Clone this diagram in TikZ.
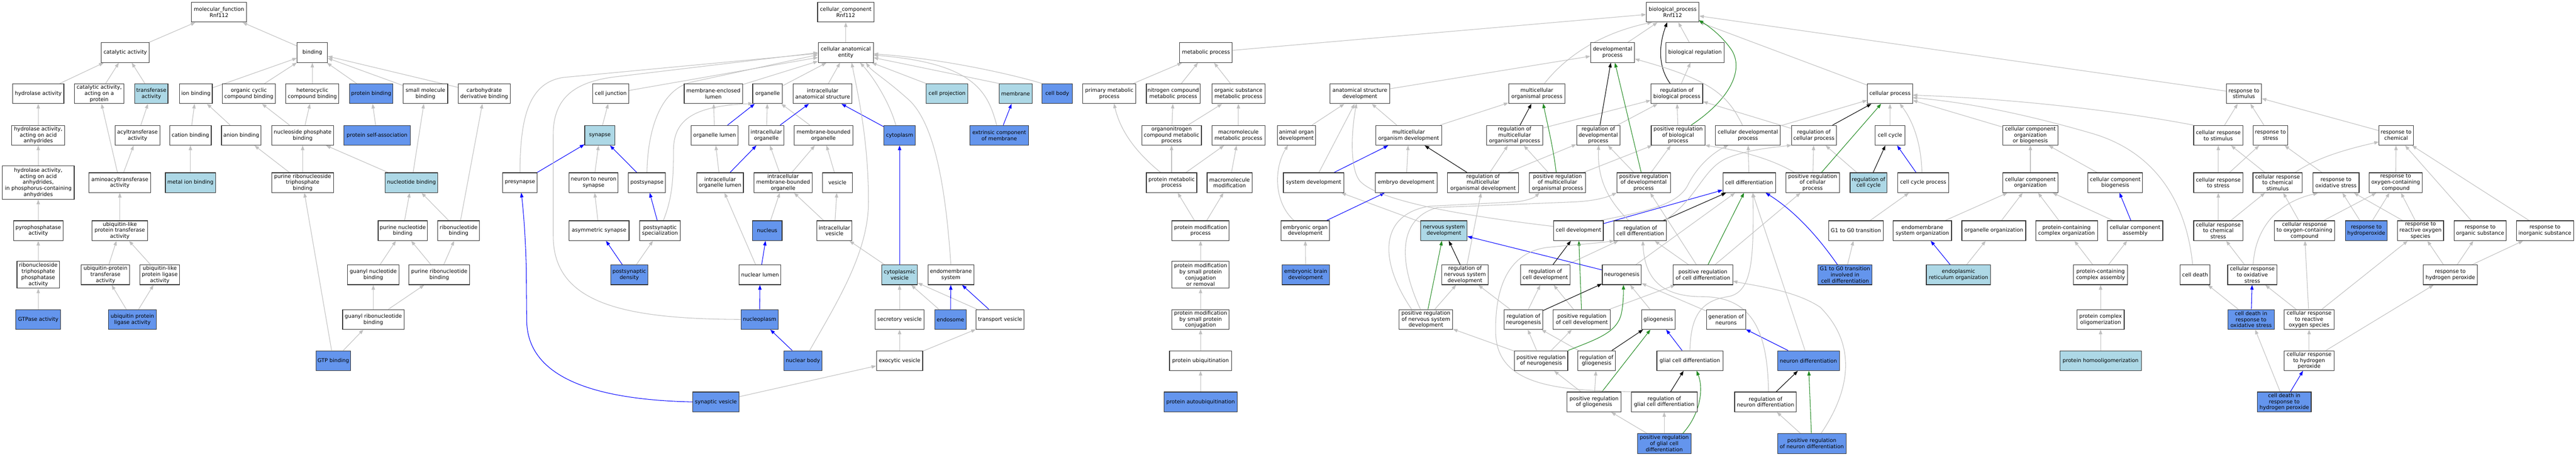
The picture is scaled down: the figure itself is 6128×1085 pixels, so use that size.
\documentclass[tikz,border=0pt]{standalone}
\usepackage{fontspec}
\setmainfont{DejaVu Sans}
\usetikzlibrary{arrows.meta}
\definecolor{egray}{RGB}{192,192,192}
\definecolor{eblue}{RGB}{0,0,255}
\definecolor{egreen}{RGB}{34,139,34}
\definecolor{lbcol}{RGB}{173,216,230}
\definecolor{cbcol}{RGB}{100,149,237}
\pgfdeclarelayer{bg}
\pgfdeclarelayer{edges}
\pgfsetlayers{bg,edges,main}
\tikzset{
  gobox/.style={draw=black!80, line width=1.4pt, fill=white, align=center,
    inner xsep=2pt, inner ysep=0pt, minimum height=47pt,
    font=\fontsize{12.5}{14.5}\selectfont},
  lb/.style={fill=lbcol},
  db/.style={fill=cbcol},
  tall/.style={minimum height=#1pt},
  etip/.style={-{Triangle[length=11pt,width=8pt]}},
  eg/.style={draw=egray, line width=1.3pt, etip},
  eb/.style={draw=eblue, line width=1.3pt, etip},
  ek/.style={draw=black, line width=1.3pt, etip},
  en/.style={draw=egreen, line width=1.3pt, etip},
}
\newcommand{\GOn}[5][]{\node[gobox,minimum width=#4pt,#1] (#2) at (#3) {#5};}
\begin{document}
\begin{tikzpicture}[x=1pt,y=-1pt]
\useasboundingbox (0,0) rectangle (6128,1085);
\begin{pgfonlayer}{bg}
\fill[white] (0,0) rectangle (6128,1085);
\end{pgfonlayer}
% ================= MOLECULAR FUNCTION =================
\GOn{mf}{521,29}{131}{molecular\_function\\Rnf112}
\GOn{cat}{298,125}{114}{catalytic activity}
\GOn{bind}{743,125}{72}{binding}
\GOn{hyd}{91,222.5}{122}{hydrolase activity}
\GOn{catp}{236,222.5}{118}{catalytic activity,\\acting on a\\protein}
\GOn[lb]{trans}{360,222.5}{79}{transferase\\activity}
\GOn{ionb}{466,222.5}{78}{ion binding}
\GOn{ocb}{592,222.5}{126}{organic cyclic\\compound binding}
\GOn{hcb}{743,222.5}{126}{heterocyclic\\compound binding}
\GOn[db]{protb}{883,222.5}{103}{protein binding}
\GOn{smb}{1012,222.5}{106}{small molecule\\binding}
\GOn{cdb}{1152,222.5}{124}{carbohydrate\\derivative binding}
\GOn{hyda}{91,321.5}{126}{hydrolase activity,\\acting on acid\\anhydrides}
\GOn{acyl}{327,321.5}{107}{acyltransferase\\activity}
\GOn{catb}{453,321.5}{99}{cation binding}
\GOn{anb}{574,321.5}{94}{anion binding}
\GOn{npb}{720,321.5}{147}{nucleoside phosphate\\binding}
\GOn[db]{psa}{897,321.5}{158}{protein self-association}
\GOn[tall=79]{hydp}{91,434}{171}{hydrolase activity,\\acting on acid\\anhydrides,\\in phosphorus-containing\\anhydrides}
\GOn{amino}{285,434}{147}{aminoacyltransferase\\activity}
\GOn[lb]{mib}{453,434}{119}{metal ion binding}
\GOn{prtb}{720,434}{147}{purine ribonucleoside\\triphosphate\\binding}
\GOn[lb]{nucb}{979,434}{125}{nucleotide binding}
\GOn{pyro}{91,548}{118}{pyrophosphatase\\activity}
\GOn{ubtr}{285,548}{132}{ubiquitin-like\\protein transferase\\activity}
\GOn{pnb}{958,548}{117}{purine nucleotide\\binding}
\GOn{rnb}{1091,548}{99}{ribonucleotide\\binding}
\GOn[tall=64]{rtpa}{91,653}{101}{ribonucleoside\\triphosphate\\phosphatase\\activity}
\GOn{uptr}{251,653}{115}{ubiquitin-protein\\transferase\\activity}
\GOn{ulpl}{380,653}{94}{ubiquitin-like\\protein ligase\\activity}
\GOn{gnb}{888,653}{123}{guanyl nucleotide\\binding}
\GOn{prb}{1045,653}{145}{purine ribonucleotide\\binding}
\GOn[db]{gtpase}{91,759}{107}{GTPase activity}
\GOn[db]{upl}{315,759}{113}{ubiquitin protein\\ligase activity}
\GOn{grb}{888,759}{146}{guanyl ribonucleotide\\binding}
\GOn[db]{gtpb}{793,857}{83}{GTP binding}
% ================= CELLULAR COMPONENT =================
\GOn{cc}{2012,29}{134}{cellular\_component\\Rnf112}
\GOn{cae}{2012,125}{131}{cellular anatomical\\entity}
\GOn{cj}{1453,222.5}{85}{cell junction}
\GOn{mel}{1697,222.5}{139}{membrane-enclosed\\lumen}
\GOn{org}{1826,222.5}{71}{organelle}
\GOn{ias}{1957,222.5}{140}{intracellular\\anatomical structure}
\GOn[lb]{cproj}{2253,222.5}{99}{cell projection}
\GOn[lb]{memb}{2416,222.5}{78}{membrane}
\GOn[db]{cbody}{2515,222.5}{72}{cell body}
\GOn[lb]{syn}{1427,321.5}{72}{synapse}
\GOn{orgl}{1700,321.5}{111}{organelle lumen}
\GOn{iorg}{1823,321.5}{84}{intracellular\\organelle}
\GOn{mbo}{1959,321.5}{139}{membrane-bounded\\organelle}
\GOn[db]{cyto}{2140,321.5}{75}{cytoplasm}
\GOn[db]{ecm}{2377,321.5}{139}{extrinsic component\\of membrane}
\GOn{presyn}{1237,434}{82}{presynapse}
\GOn{nns}{1412,434}{117}{neuron to neuron\\synapse}
\GOn{postsyn}{1539,434}{88}{postsynapse}
\GOn{iol}{1713,434}{111}{intracellular\\organelle lumen}
\GOn{imbo}{1863,434}{138}{intracellular\\membrane-bounded\\organelle}
\GOn{ves}{1992,434}{71}{vesicle}
\GOn{asyn}{1425,548}{143}{asymmetric synapse}
\GOn{pss}{1570,548}{96}{postsynaptic\\specialization}
\GOn[db]{nucleus}{1825,548}{71}{nucleus}
\GOn{iv}{1985,548}{83}{intracellular\\vesicle}
\GOn[db]{psd}{1497,653}{89}{postsynaptic\\density}
\GOn{nl}{1808,653}{99}{nuclear lumen}
\GOn[lb]{cv}{2140,653}{85}{cytoplasmic\\vesicle}
\GOn{ems}{2262,653}{109}{endomembrane\\system}
\GOn[db]{np}{1807,759}{89}{nucleoplasm}
\GOn{sv}{2140,759}{117}{secretory vesicle}
\GOn[db]{endo}{2261,759}{75}{endosome}
\GOn{tv}{2379,759}{114}{transport vesicle}
\GOn[db]{nb}{1910,857}{91}{nuclear body}
\GOn{ev}{2140,857}{110}{exocytic vesicle}
\GOn[db]{synv}{1703,955}{110}{synaptic vesicle}
% ================= BIOLOGICAL PROCESS =================
\GOn{bp}{3979,29}{125}{biological\_process\\Rnf112}
\GOn{metab}{2869,125}{125}{metabolic process}
\GOn{devp}{3836,125}{104}{developmental\\process}
\GOn{bioreg}{4032,125}{138}{biological regulation}
\GOn{pmp}{2639,222.5}{126}{primary metabolic\\process}
\GOn{ncmp}{2791,222.5}{128}{nitrogen compound\\metabolic process}
\GOn{osmp}{2946,222.5}{126}{organic substance\\metabolic process}
\GOn{asd}{3235,222.5}{142}{anatomical structure\\development}
\GOn{mop}{3656,222.5}{134}{multicellular\\organismal process}
\GOn{rbp}{3989,222.5}{123}{regulation of\\biological process}
\GOn{cp}{4496,222.5}{107}{cellular process}
\GOn{rs}{5338,222.5}{83}{response to\\stimulus}
\GOn{oncmp}{2787,321.5}{142}{organonitrogen\\compound metabolic\\process}
\GOn{mmp}{2946,321.5}{126}{macromolecule\\metabolic process}
\GOn{aod}{3084,321.5}{91}{animal organ\\development}
\GOn{mod}{3351,321.5}{157}{multicellular\\organism development}
\GOn{rmop}{3603,321.5}{133}{regulation of\\multicellular\\organismal process}
\GOn{rdp}{3802,321.5}{103}{regulation of\\developmental\\process}
\GOn{prbp}{3992,321.5}{128}{positive regulation\\of biological\\process}
\GOn{cdp}{4158,321.5}{155}{cellular developmental\\process}
\GOn{rcp}{4315,321.5}{107}{regulation of\\cellular process}
\GOn{ccyc}{4496,321.5}{72}{cell cycle}
\GOn{ccob}{4830,321.5}{131}{cellular component\\organization\\or biogenesis}
\GOn{crs}{5277,321.5}{117}{cellular response\\to stimulus}
\GOn{rstress}{5401,321.5}{82}{response to\\stress}
\GOn{rchem}{5700,321.5}{82}{response to\\chemical}
\GOn{protmp}{2787,434}{120}{protein metabolic\\process}
\GOn{mmod}{2925,434}{107}{macromolecule\\modification}
\GOn{sysd}{3125,434}{144}{system development}
\GOn{embd}{3345,434}{147}{embryo development}
\GOn{rmod}{3528,434}{169}{regulation of\\multicellular\\organismal development}
\GOn{prmop}{3705,434}{133}{positive regulation\\of multicellular\\organismal process}
\GOn{prdp}{3910,434}{127}{positive regulation\\of developmental\\process}
\GOn{cdiff}{4161,434}{125}{cell differentiation}
\GOn{prcp}{4312,434}{128}{positive regulation\\of cellular\\process}
\GOn[lb]{rcc}{4445,434}{88}{regulation of\\cell cycle}
\GOn{ccp}{4575,434}{121}{cell cycle process}
\GOn{cco}{4830,434}{131}{cellular component\\organization}
\GOn{ccb}{5032,434}{130}{cellular component\\biogenesis}
\GOn{crstress}{5277,434}{117}{cellular response\\to stress}
\GOn{crcs}{5418,434}{117}{cellular response\\to chemical\\stimulus}
\GOn{ros}{5557,434}{110}{response to\\oxidative stress}
\GOn{rocc}{5699,434}{126}{response to\\oxygen-containing\\compound}
\GOn{pmpr}{2856,548}{136}{protein modification\\process}
\GOn{eod}{3105,548}{115}{embryonic organ\\development}
\GOn[lb]{nsd}{3435,548}{110}{nervous system\\development}
\GOn{celld}{3755,548}{118}{cell development}
\GOn{rcd}{3902,548}{125}{regulation of\\cell differentiation}
\GOn{g1g0}{4415,548}{130}{G1 to G0 transition}
\GOn{emso}{4573,548}{139}{endomembrane\\system organization}
\GOn{oo}{4743,548}{152}{organelle organization}
\GOn{pcco}{4916,548}{147}{protein-containing\\complex organization}
\GOn{cca}{5079,548}{132}{cellular component\\assembly}
\GOn{crcstress}{5277,548}{117}{cellular response\\to chemical\\stress}
\GOn{crocc}{5482,548}{144}{cellular response\\to oxygen-containing\\compound}
\GOn[db]{rhyd}{5629,548}{99}{response to\\hydroperoxide}
\GOn{rros}{5758,548}{110}{response to\\reactive oxygen\\species}
\GOn{rorg}{5900,548}{123}{response to\\organic substance}
\GOn{rinorg}{6054,548}{136}{response to\\inorganic substance}
\GOn[tall=64]{pmsr}{2856,653}{136}{protein modification\\by small protein\\conjugation\\or removal}
\GOn[db]{ebd}{3106,653}{113}{embryonic brain\\development}
\GOn{rnsd}{3485,653}{111}{regulation of\\nervous system\\development}
\GOn{rcdev}{3676,653}{118}{regulation of\\cell development}
\GOn{neurog}{3858,653}{93}{neurogenesis}
\GOn{prcd}{4051,653}{142}{positive regulation\\of cell differentiation}
\GOn[db]{g1g0cd}{4389,653}{129}{G1 to G0 transition\\involved in\\cell differentiation}
\GOn[lb]{ero}{4659,653}{153}{endoplasmic\\reticulum organization}
\GOn{pcca}{4997,653}{129}{protein-containing\\complex assembly}
\GOn{cdeath}{5222,653}{71}{cell death}
\GOn{cros}{5358,653}{117}{cellular response\\to oxidative\\stress}
\GOn{rhp}{5829,653}{128}{response to\\hydrogen peroxide}
\GOn{pmsp}{2856,759}{136}{protein modification\\by small protein\\conjugation}
\GOn{prnsd}{3392,759}{127}{positive regulation\\of nervous system\\development}
\GOn{rneurog}{3624,759}{92}{regulation of\\neurogenesis}
\GOn{prcdev}{3763,759}{136}{positive regulation\\of cell development}
\GOn{glio}{3945,759}{80}{gliogenesis}
\GOn{genn}{4106,759}{93}{generation of\\neurons}
\GOn{pco}{4997,759}{112}{protein complex\\oligomerization}
\GOn[db]{cdros}{5355,759}{110}{cell death in\\response to\\oxidative stress}
\GOn{crros}{5493,759}{118}{cellular response\\to reactive\\oxygen species}
\GOn{pubiq}{2856,857}{148}{protein ubiquitination}
\GOn{prneurog}{3666,857}{127}{positive regulation\\of neurogenesis}
\GOn{rglio}{3798,857}{89}{regulation of\\gliogenesis}
\GOn{gcd}{4020,857}{157}{glial cell differentiation}
\GOn[db]{nd}{4302,857}{147}{neuron differentiation}
\GOn[lb]{pho}{4997,857}{194}{protein homooligomerization}
\GOn{crhp}{5493,857}{118}{cellular response\\to hydrogen\\peroxide}
\GOn[db]{pautoub}{2856,955}{174}{protein autoubiquitination}
\GOn{prglio}{3792,955}{128}{positive regulation\\of gliogenesis}
\GOn{rgcd}{3959,955}{157}{regulation of\\glial cell differentiation}
\GOn{rnd}{4200,955}{147}{regulation of\\neuron differentiation}
\GOn[db]{cdrhp}{5434,955}{128}{cell death in\\response to\\hydrogen peroxide}
\GOn[db]{prgcd}{3959,1054}{128}{positive regulation\\of glial cell\\differentiation}
\GOn[db]{prnd}{4310,1054}{163}{positive regulation\\of neuron differentiation}
% ================= EDGES =================
\begin{pgfonlayer}{edges}
% gray straight
\foreach \a/\b in {cat/mf, bind/mf, hyd/cat, catp/cat, trans/cat, ionb/bind, ocb/bind, hcb/bind, protb/bind, smb/bind, cdb/bind, hyda/hyd, acyl/trans, catb/ionb, anb/ionb, npb/ocb, npb/hcb, psa/protb, hydp/hyda, amino/catp, amino/acyl, mib/catb, prtb/anb, prtb/npb, nucb/npb, nucb/smb, pyro/hydp, ubtr/amino, pnb/nucb, rnb/nucb, rnb/cdb, rtpa/pyro, uptr/ubtr, ulpl/ubtr, gnb/pnb, prb/pnb, prb/rnb, gtpase/rtpa, upl/uptr, upl/ulpl, grb/gnb, grb/prb, gtpb/prtb, gtpb/grb}
  \draw[eg] (\a) -- (\b);
\foreach \a/\b in {cae/cc, cj/cae, mel/cae, org/cae, ias/cae, syn/cj, orgl/mel, iorg/org, mbo/org, nns/syn, iol/orgl, imbo/iorg, imbo/mbo, ves/mbo, asyn/nns, nucleus/imbo, iv/imbo, iv/ves, psd/pss, nl/iol, synv/ev, cv/iv, sv/cv, endo/cv, tv/cv, ev/sv, ev/tv}
  \draw[eg] (\a) -- (\b);
\foreach \a/\b in {orgl/org, iorg/ias, presyn/syn, postsyn/syn, iol/iorg, pss/postsyn, psd/asyn, nl/nucleus, np/nl, nb/np, cyto/ias, ecm/memb, cv/cyto, endo/ems, tv/ems}
  \draw[eb] (\a) -- (\b);
\foreach \a/\b in {metab/bp, pmp/metab, ncmp/metab, osmp/metab, oncmp/ncmp, oncmp/osmp, mmp/osmp, protmp/oncmp, protmp/mmp, mmod/mmp, pmpr/protmp, pmpr/mmod, pmsr/pmpr, pmsp/pmsr, pubiq/pmsp, pautoub/pubiq}
  \draw[eg] (\a) -- (\b);
\foreach \a/\b in {devp/bp, bioreg/bp, rbp/bioreg, asd/devp, aod/asd, mod/asd, mod/mop, rmop/rbp, rdp/rbp, prbp/rbp, sysd/asd, embd/mod, rmod/rmop, rmod/rdp, prmop/rmop, prmop/prbp, prdp/rdp, prdp/prbp, nsd/sysd, ebd/eod, rnsd/rmod, rcdev/rcd, neurog/cdiff, prcd/rcd, prcd/prcp, prcd/prdp, prnsd/rnsd, rneurog/rcdev, rneurog/rnsd, prcdev/rcdev, prcdev/prcd, glio/neurog, genn/neurog, prneurog/rneurog, prneurog/prcdev, prneurog/prnsd, rglio/rneurog, prglio/rglio, prglio/prneurog, prgcd/prglio, prgcd/rgcd}
  \draw[eg] (\a) -- (\b);
\foreach \a/\b in {cp/bp, rs/bp, cdp/cp, rcp/rbp, ccyc/cp, cdiff/cdp, prcp/rcp, rcc/rcp, ccob/cp, cco/ccob, ccb/ccob, g1g0/ccp, emso/cco, oo/cco, pcco/cco, cca/cco, g1g0cd/g1g0, ero/oo, pcca/pcco, pcca/cca, pco/pcca, pho/pco, nd/cdiff, prnd/rnd}
  \draw[eg] (\a) -- (\b);
\foreach \a/\b in {crs/rs, rstress/rs, rchem/rs, crstress/crs, crstress/rstress, crcs/crs, ros/rstress, rocc/rchem, crcstress/crstress, crcstress/crcs, crocc/crcs, crocc/rocc, rhyd/ros, rhyd/rocc, rros/ros, rros/rocc, rorg/rchem, rinorg/rchem, cros/crcstress, rhp/rros, rhp/rorg, rhp/rinorg, cdros/cdeath, crros/cros, crros/rros, crros/crocc, crhp/crros, crhp/rhp, cdrhp/cdros}
  \draw[eg] (\a) -- (\b);
\foreach \a/\b in {sysd/mod, eod/embd, celld/cdiff, neurog/nsd, gcd/glio, ccp/ccyc, cca/ccb, ero/emso, nd/genn, cdros/cros, cdrhp/crhp}
  \draw[eb] (\a) -- (\b);
\foreach \a/\b in {rmop/mop, rdp/devp, rmod/mod, rcd/cdiff, rnsd/nsd, rcdev/celld, rneurog/neurog, rglio/glio, rgcd/gcd, rcp/cp, rcc/ccyc, rnd/nd}
  \draw[ek] (\a) -- (\b);
\foreach \a/\b in {prdp/devp, prcd/cdiff, prnsd/nsd, prcdev/celld, prglio/glio, prcp/cp, prnd/nd}
  \draw[en] (\a) -- (\b);
% ---- curved / routed edges: cellular component
\draw[eg] (presyn.north) .. controls (1237,270) and (1262,196) .. (1340,184) -- (1946,127);
\draw[eg] (postsyn.north) .. controls (1541,300) and (1575,208) .. (1650,194) -- (1946,130);
\draw[eg] (np.west) .. controls (1480,758) and (1316,720) .. (1316,560) -- (1316,320) .. controls (1316,230) and (1370,195) .. (1460,183) -- (1946,125);
\draw[eg] ([xshift=8pt]pss.north) .. controls (1600,470) and (1602,420) .. (1602,360) .. controls (1602,290) and (1640,252) .. (1791,246);
\draw[eg] ([xshift=16pt]nb.north) .. controls (1990,720) and (2066,600) .. (2066,480) .. controls (2066,330) and (2040,220) .. (2026,149);
\draw[eg] ([xshift=-9pt]cyto.north) .. controls (2115,240) and (2075,180) .. (2046,149);
\draw[eg] (ems.north) .. controls (2250,450) and (2225,300) .. (2165,240) .. controls (2110,190) and (2075,170) .. (2060,149);
\draw[eg] ([xshift=-6pt]ecm.north) .. controls (2350,220) and (2320,150) .. (2078,131);
\draw[eg] (cproj.north west) -- (2074,149);
\draw[eg] (memb.north west) -- (2078,137);
\draw[eg] (cbody.north west) .. controls (2420,180) and (2250,140) .. (2078,128);
\draw[eb] (synv.west) .. controls (1420,950) and (1253,900) .. (1253,760) -- (1252,640) .. controls (1250,560) and (1245,500) .. (1240,458);
% ---- curved edges: biological process
\draw[eg] ([xshift=-26pt]protmp.north) .. controls (2700,360) and (2665,310) .. (2650,246);
\draw[eg] ([xshift=18pt]mop.north) .. controls (3720,140) and (3800,80) .. (3930,53);
\draw[ek] ([xshift=-16pt]rbp.north) .. controls (3945,160) and (3945,110) .. (3966,53);
\draw[en] ([xshift=31pt]prbp.north) .. controls (4110,240) and (4150,170) .. (4120,120) .. controls (4100,90) and (4070,65) .. (4041,48);
\draw[en] ([xshift=-3pt]prmop.north) .. controls (3695,350) and (3680,290) .. (3671,246);
\draw[eg] (3696,538) .. controls (3500,515) and (3280,480) .. (3235,430) .. controls (3210,400) and (3215,310) .. (3227,246);
\draw[eg] ([xshift=-27pt]eod.north) .. controls (3030,480) and (3030,400) .. (3064,345);
\draw[eg] ([xshift=-28pt]rcd.north) .. controls (3820,470) and (3800,420) .. (3803,345);
\draw[eg] ([xshift=58pt]rcd.north) .. controls (4040,470) and (4050,400) .. (4110,375) .. controls (4160,355) and (4220,350) .. (4262,345);
\draw[eg] ([xshift=52pt]celld.north) .. controls (3900,505) and (3990,490) .. (4015,440) .. controls (4040,390) and (4080,360) .. (4112,345);
\draw[eg] ([xshift=-13pt]cdp.north) .. controls (4110,225) and (4070,190) .. (3889,140);
\draw[eg] ([xshift=-43pt]prcp.north) .. controls (4200,370) and (4120,355) .. (4056,345);
\draw[eg] ([xshift=-3pt]ccp.north) .. controls (4570,330) and (4545,280) .. (4519,246);
\draw[eb] ([xshift=-18pt]g1g0cd.north) .. controls (4330,570) and (4275,505) .. (4200,458);
\draw[eg] ([xshift=7pt]rnd.north) .. controls (4205,790) and (4170,705) .. (4050,705) .. controls (3940,705) and (3912,650) .. (3908,572);
\draw[eg] (gcd.north) .. controls (4022,760) and (4040,715) .. (4110,705) .. controls (4168,695) and (4172,620) .. (4170,458);
\draw[eg] ([xshift=22pt]prnd.north) .. controls (4400,930) and (4420,820) .. (4330,730) .. controls (4270,690) and (4180,680) .. (4122,668);
\draw[eg] (rgcd.north west) .. controls (3700,928) and (3560,915) .. (3558,790) .. controls (3556,680) and (3590,600) .. (3680,588) .. controls (3760,580) and (3800,578) .. (3840,572);
\draw[en] ([xshift=44pt]prgcd.north) .. controls (4040,990) and (4055,930) .. (4036,881);
\draw[en] (prneurog.north east) .. controls (3800,805) and (3850,790) .. (3858,740) .. controls (3862,715) and (3862,700) .. (3862,677);
\draw[eg] ([xshift=-34pt]prnsd.north) .. controls (3280,620) and (3280,510) .. (3400,490) -- (3600,480) .. controls (3630,478) and (3650,470) .. (3662,458);
\draw[eg] ([xshift=-13pt]prnsd.north) .. controls (3330,630) and (3320,520) .. (3420,493) -- (3740,480) .. controls (3790,478) and (3820,470) .. (3846,458);
\draw[eg] ([xshift=-6pt]cdeath.north) .. controls (5200,470) and (5120,360) .. (4980,318) .. controls (4850,280) and (4700,245) .. (4550,232);
\draw[eg] (crs.north west) .. controls (5050,265) and (4800,235) .. (4550,226);
\draw[eg] ([xshift=42pt]crcs.north) .. controls (5510,375) and (5580,355) .. (5659,337);
\draw[eg] ([xshift=2pt]cros.north) .. controls (5365,540) and (5420,480) .. (5514,459);
\end{pgfonlayer}
\end{tikzpicture}
\end{document}
